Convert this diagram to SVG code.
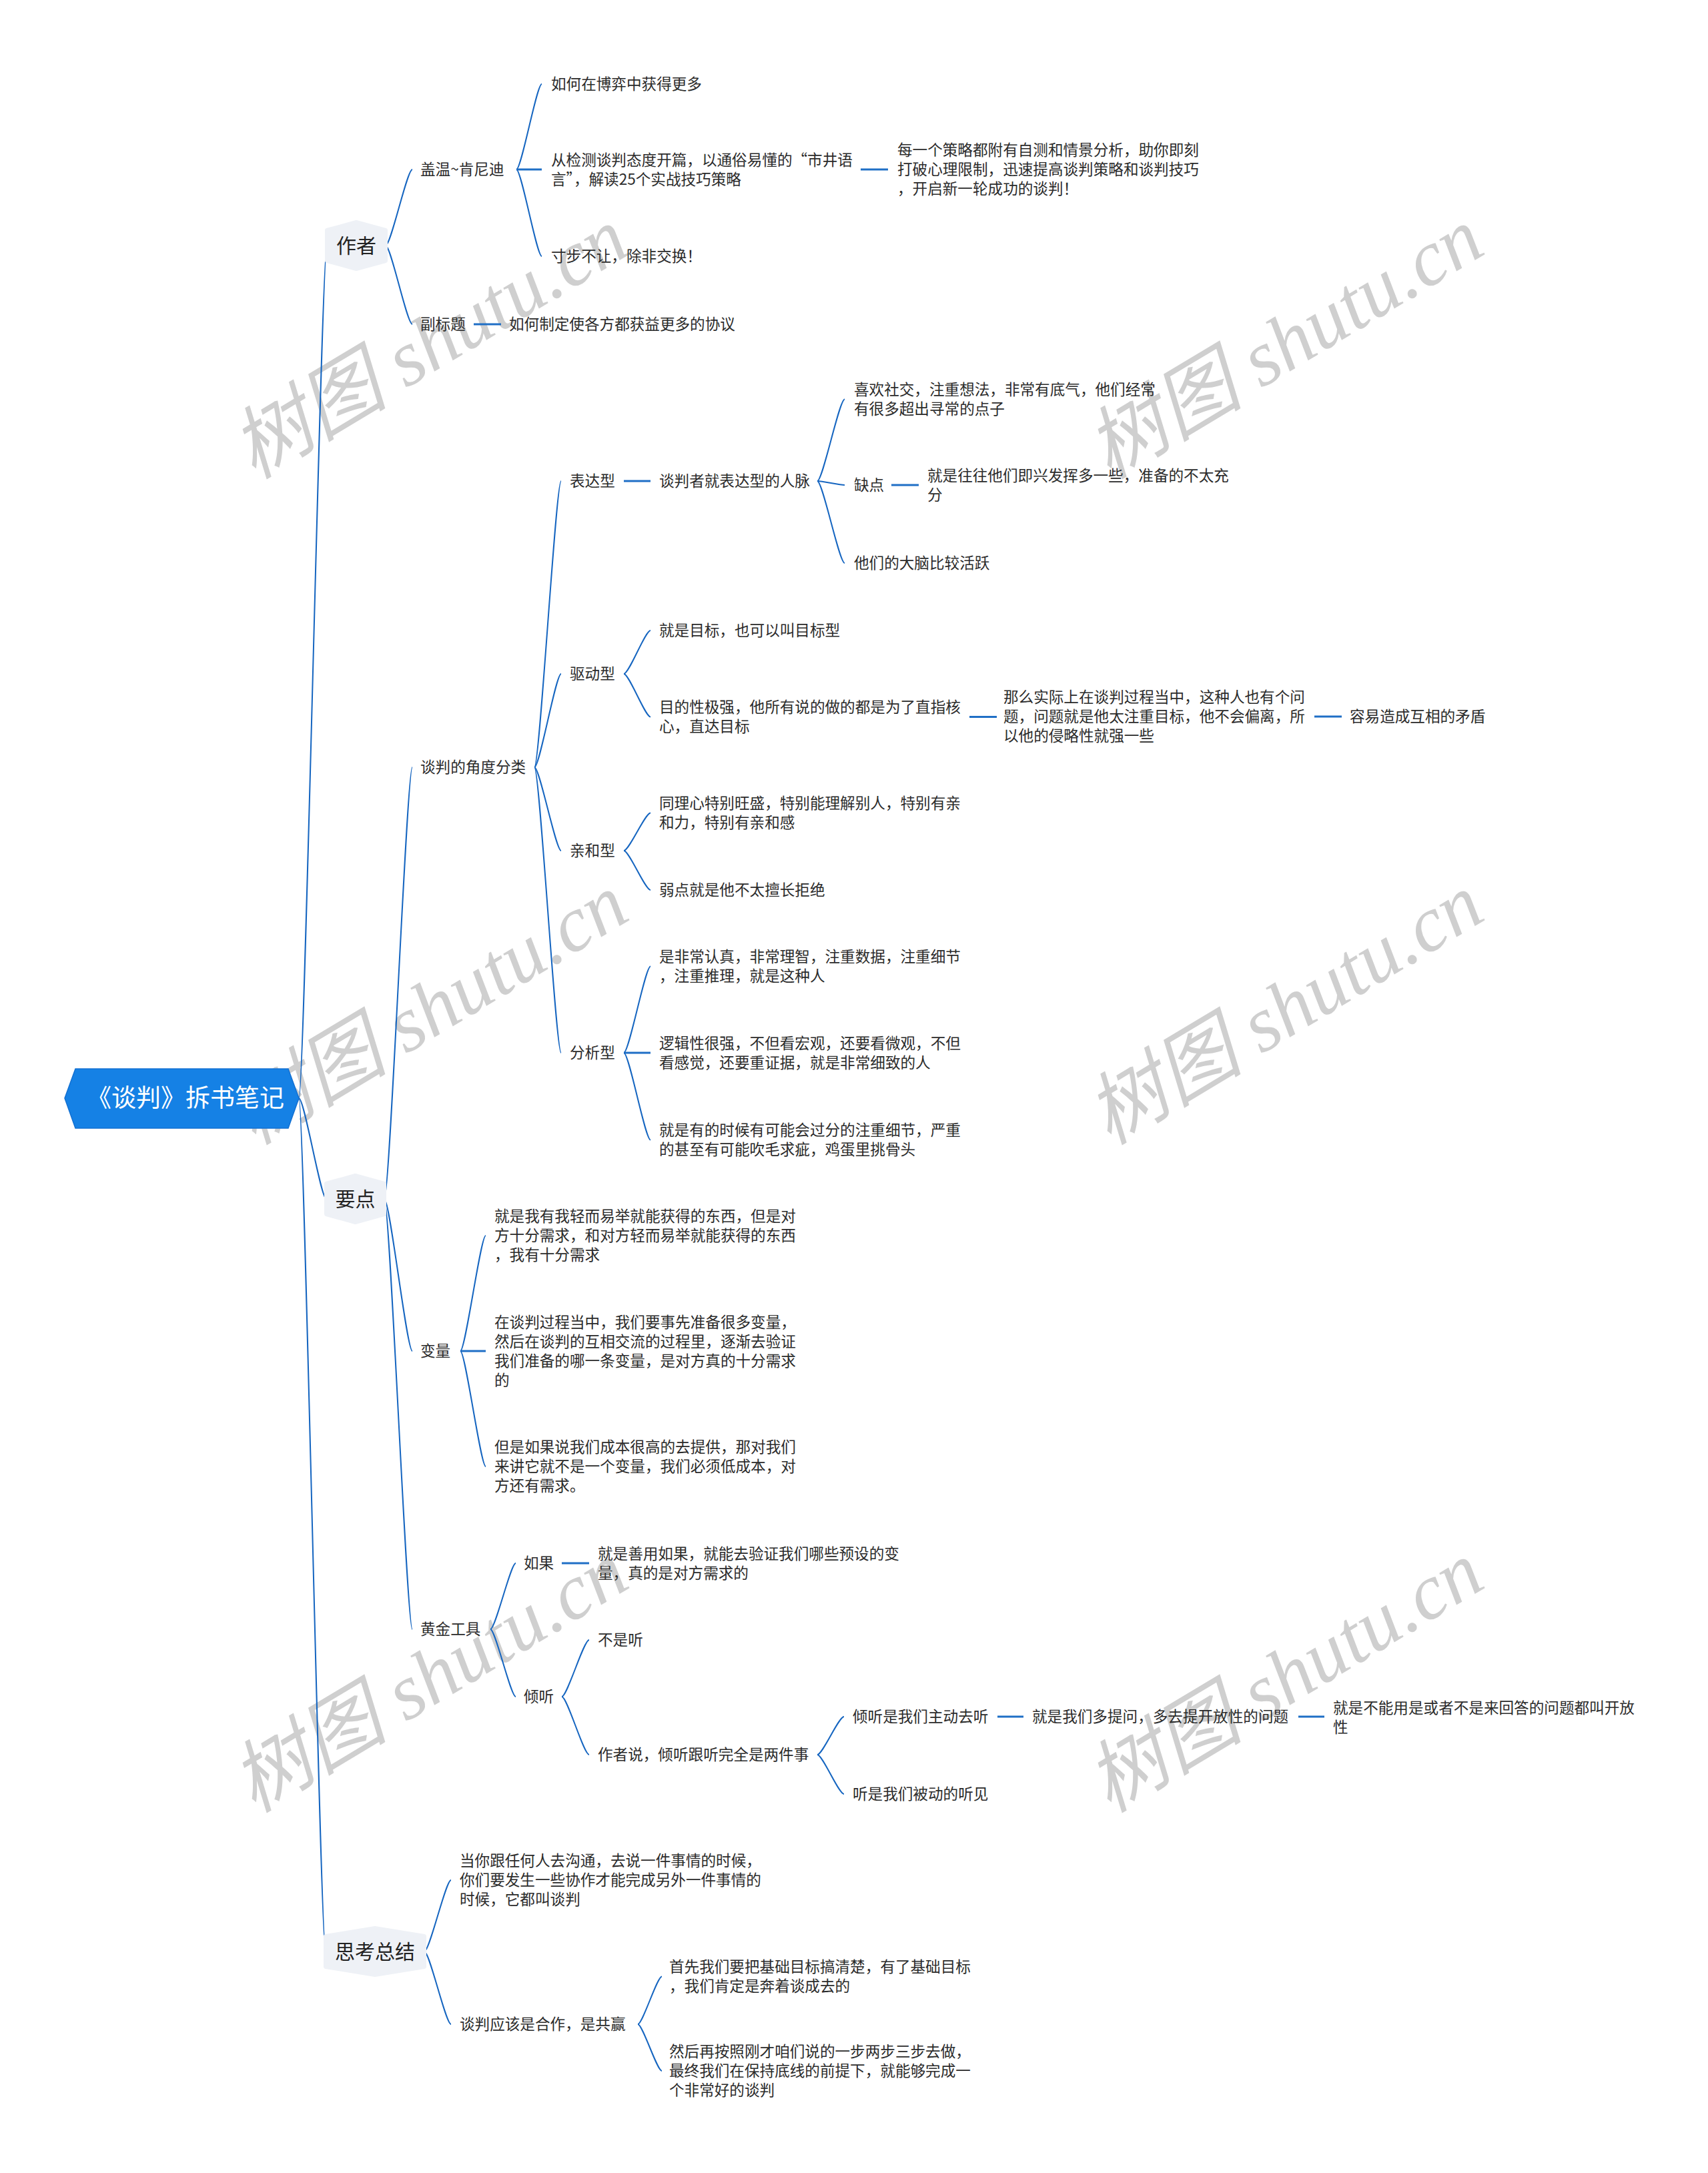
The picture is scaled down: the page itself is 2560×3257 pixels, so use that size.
<svg xmlns="http://www.w3.org/2000/svg" width="2560" height="3257" viewBox="0 0 2560 3257">
<style>
.bg{fill:#ffffff}
.wm{font-family:"Liberation Serif","Noto Sans CJK SC",serif;font-style:italic;font-size:118px;fill:#cfcfcf;text-anchor:middle;dominant-baseline:central}
.t{font-family:"Noto Sans CJK SC","Noto Sans",sans-serif;font-size:22.6px;fill:#2b2b2b}
.h{font-family:"Noto Sans CJK SC","Noto Sans",sans-serif;font-size:30px;fill:#222222;text-anchor:middle}
.root{font-family:"Noto Sans CJK SC","Noto Sans",sans-serif;font-size:37px;fill:#ffffff;text-anchor:middle}
.c{fill:none;stroke:#1565c0;stroke-width:2}
.s{fill:none;stroke:#1f6fc6;stroke-width:3}
.hex{fill:#eef1f6;stroke:#eef1f6;stroke-width:6;stroke-linejoin:round}
</style>
<rect class="bg" x="0" y="0" width="2560" height="3257"/>
<g id="watermarks">
<text class="wm" x="644" y="515" transform="rotate(-31 644 515)">树图 shutu.cn</text>
<text class="wm" x="1926" y="515" transform="rotate(-31 1926 515)">树图 shutu.cn</text>
<text class="wm" x="644" y="1513" transform="rotate(-31 644 1513)">树图 shutu.cn</text>
<text class="wm" x="1926" y="1513" transform="rotate(-31 1926 1513)">树图 shutu.cn</text>
<text class="wm" x="644" y="2514" transform="rotate(-31 644 2514)">树图 shutu.cn</text>
<text class="wm" x="1926" y="2514" transform="rotate(-31 1926 2514)">树图 shutu.cn</text>
</g>
<g id="connectors">
<path class="c" d="M448,1646 C456.4,1646 481.6,368 490,368"/>
<path class="c" d="M448,1646 C456.2,1646 480.8,1797 489,1797"/>
<path class="c" d="M448,1646 C456,1646 480,2925 488,2925"/>
<path class="c" d="M578,368 C586,368 610,254 618,254"/>
<path class="c" d="M578,368 C586,368 610,486 618,486"/>
<path class="c" d="M774,254 C781.6,254 804.4,126 812,126"/>
<path class="s" d="M774,254 L812,254"/>
<path class="c" d="M774,254 C781.6,254 804.4,384 812,384"/>
<path class="s" d="M1290,254 L1331,254"/>
<path class="s" d="M710,486 L751,486"/>
<path class="c" d="M576,1797 C584.4,1797 609.6,1150 618,1150"/>
<path class="c" d="M576,1797 C584.4,1797 609.6,2025 618,2025"/>
<path class="c" d="M576,1797 C584.4,1797 609.6,2442 618,2442"/>
<path class="c" d="M801,1150 C809,1150 833,721 841,721"/>
<path class="c" d="M801,1150 C809,1150 833,1010 841,1010"/>
<path class="c" d="M801,1150 C809,1150 833,1275 841,1275"/>
<path class="c" d="M801,1150 C809,1150 833,1578 841,1578"/>
<path class="s" d="M935,721 L975,721"/>
<path class="c" d="M1225,721 C1233.2,721 1257.8,598.5 1266,598.5"/>
<path class="c" d="M1225,721 C1233.2,721 1257.8,727 1266,727"/>
<path class="c" d="M1225,721 C1233.2,721 1257.8,844 1266,844"/>
<path class="s" d="M1336,727 L1377,727"/>
<path class="c" d="M935,1010 C943,1010 967,945 975,945"/>
<path class="c" d="M935,1010 C943,1010 967,1074.5 975,1074.5"/>
<path class="s" d="M1453,1074.5 L1494,1074.5"/>
<path class="s" d="M1970,1074 L2011,1074"/>
<path class="c" d="M935,1275 C943,1275 967,1218.5 975,1218.5"/>
<path class="c" d="M935,1275 C943,1275 967,1334 975,1334"/>
<path class="c" d="M935,1578 C943,1578 967,1448.5 975,1448.5"/>
<path class="s" d="M935,1578 L975,1578"/>
<path class="c" d="M935,1578 C943,1578 967,1708.5 975,1708.5"/>
<path class="c" d="M690,2025 C697.6,2025 720.4,1852 728,1852"/>
<path class="s" d="M690,2025 L728,2025"/>
<path class="c" d="M690,2025 C697.6,2025 720.4,2198 728,2198"/>
<path class="c" d="M735,2442 C742.6,2442 765.4,2343 773,2343"/>
<path class="c" d="M735,2442 C742.6,2442 765.4,2543 773,2543"/>
<path class="s" d="M842,2343 L883,2343"/>
<path class="c" d="M842,2543 C850.2,2543 874.8,2458 883,2458"/>
<path class="c" d="M842,2543 C850.2,2543 874.8,2630 883,2630"/>
<path class="c" d="M1225,2630 C1233,2630 1257,2573 1265,2573"/>
<path class="c" d="M1225,2630 C1233,2630 1257,2689 1265,2689"/>
<path class="s" d="M1495,2573 L1534,2573"/>
<path class="s" d="M1946,2573 L1985,2573"/>
<path class="c" d="M636,2925 C644,2925 668,2818 676,2818"/>
<path class="c" d="M636,2925 C644,2925 668,3034 676,3034"/>
<path class="c" d="M956,3034 C963.2,3034 984.8,2962.5 992,2962.5"/>
<path class="c" d="M956,3034 C963.2,3034 984.8,3104 992,3104"/>
</g>
<g id="root">
<polygon points="113,1602 432,1602 448,1646 432,1691 113,1691 97,1646" fill="#1581e5" stroke="#1270d2" stroke-width="1.5"/>
<text class="root" x="278" y="1659">《谈判》拆书笔记</text>
</g>
<g id="n-author">
<polygon class="hex" points="534,333 578,345 578,391 534,403 490,391 490,345"/>
<text class="h" x="534" y="378.5">作者</text>
</g>
<g id="n-gaiwen"><text class="t" x="630" y="262">盖温~肯尼迪</text></g>
<g id="n-boyi"><text class="t" x="826" y="134">如何在博弈中获得更多</text></g>
<g id="n-jiance"><text class="t"><tspan x="826" y="248">从检测谈判态度开篇，以通俗易懂的“市井语</tspan><tspan x="826" y="277">言”，解读25个实战技巧策略</tspan></text></g>
<g id="n-celue"><text class="t"><tspan x="1345" y="233">每一个策略都附有自测和情景分析，助你即刻</tspan><tspan x="1345" y="262">打破心理限制，迅速提高谈判策略和谈判技巧</tspan><tspan x="1345" y="291">，开启新一轮成功的谈判！</tspan></text></g>
<g id="n-cunbu"><text class="t" x="826" y="392">寸步不让，除非交换！</text></g>
<g id="n-fubiaoti"><text class="t" x="630" y="494">副标题</text></g>
<g id="n-xieyi"><text class="t" x="763" y="494">如何制定使各方都获益更多的协议</text></g>
<g id="n-yaodian">
<polygon class="hex" points="532.5,1762 576,1774 576,1820 532.5,1832 489,1820 489,1774"/>
<text class="h" x="532.5" y="1807.5">要点</text>
</g>
<g id="n-jiaodu"><text class="t" x="630" y="1158">谈判的角度分类</text></g>
<g id="n-biaoda"><text class="t" x="854" y="729">表达型</text></g>
<g id="n-renmai"><text class="t" x="988" y="729">谈判者就表达型的人脉</text></g>
<g id="n-shejiao"><text class="t"><tspan x="1280" y="592">喜欢社交，注重想法，非常有底气，他们经常</tspan><tspan x="1280" y="621">有很多超出寻常的点子</tspan></text></g>
<g id="n-quedian"><text class="t" x="1280" y="735">缺点</text></g>
<g id="n-jixing"><text class="t"><tspan x="1390" y="721">就是往往他们即兴发挥多一些，准备的不太充</tspan><tspan x="1390" y="750">分</tspan></text></g>
<g id="n-danao"><text class="t" x="1280" y="852">他们的大脑比较活跃</text></g>
<g id="n-qudong"><text class="t" x="854" y="1018">驱动型</text></g>
<g id="n-mubiao"><text class="t" x="988" y="953">就是目标，也可以叫目标型</text></g>
<g id="n-mudi"><text class="t"><tspan x="988" y="1068">目的性极强，他所有说的做的都是为了直指核</tspan><tspan x="988" y="1097">心，直达目标</tspan></text></g>
<g id="n-name"><text class="t"><tspan x="1504" y="1053">那么实际上在谈判过程当中，这种人也有个问</tspan><tspan x="1504" y="1082">题，问题就是他太注重目标，他不会偏离，所</tspan><tspan x="1504" y="1111">以他的侵略性就强一些</tspan></text></g>
<g id="n-maodun"><text class="t" x="2023" y="1082">容易造成互相的矛盾</text></g>
<g id="n-qinhe"><text class="t" x="854" y="1283">亲和型</text></g>
<g id="n-tongli"><text class="t"><tspan x="988" y="1212">同理心特别旺盛，特别能理解别人，特别有亲</tspan><tspan x="988" y="1241">和力，特别有亲和感</tspan></text></g>
<g id="n-ruodian"><text class="t" x="988" y="1342">弱点就是他不太擅长拒绝</text></g>
<g id="n-fenxi"><text class="t" x="854" y="1586">分析型</text></g>
<g id="n-renzhen"><text class="t"><tspan x="988" y="1442">是非常认真，非常理智，注重数据，注重细节</tspan><tspan x="988" y="1471">，注重推理，就是这种人</tspan></text></g>
<g id="n-luoji"><text class="t"><tspan x="988" y="1572">逻辑性很强，不但看宏观，还要看微观，不但</tspan><tspan x="988" y="1601">看感觉，还要重证据，就是非常细致的人</tspan></text></g>
<g id="n-guofen"><text class="t"><tspan x="988" y="1702">就是有的时候有可能会过分的注重细节，严重</tspan><tspan x="988" y="1731">的甚至有可能吹毛求疵，鸡蛋里挑骨头</tspan></text></g>
<g id="n-bianliang"><text class="t" x="630" y="2033">变量</text></g>
<g id="n-qingeryiju"><text class="t"><tspan x="741" y="1831">就是我有我轻而易举就能获得的东西，但是对</tspan><tspan x="741" y="1860">方十分需求，和对方轻而易举就能获得的东西</tspan><tspan x="741" y="1889">，我有十分需求</tspan></text></g>
<g id="n-shixian"><text class="t"><tspan x="741" y="1990">在谈判过程当中，我们要事先准备很多变量，</tspan><tspan x="741" y="2019">然后在谈判的互相交流的过程里，逐渐去验证</tspan><tspan x="741" y="2048">我们准备的哪一条变量，是对方真的十分需求</tspan><tspan x="741" y="2077">的</tspan></text></g>
<g id="n-chengben"><text class="t"><tspan x="741" y="2177">但是如果说我们成本很高的去提供，那对我们</tspan><tspan x="741" y="2206">来讲它就不是一个变量，我们必须低成本，对</tspan><tspan x="741" y="2235">方还有需求。</tspan></text></g>
<g id="n-huangjin"><text class="t" x="630" y="2450">黄金工具</text></g>
<g id="n-ruguo"><text class="t" x="785" y="2351">如果</text></g>
<g id="n-shanyong"><text class="t"><tspan x="896" y="2337">就是善用如果，就能去验证我们哪些预设的变</tspan><tspan x="896" y="2366">量，真的是对方需求的</tspan></text></g>
<g id="n-qingting"><text class="t" x="785" y="2551">倾听</text></g>
<g id="n-bushiting"><text class="t" x="896" y="2466">不是听</text></g>
<g id="n-zuozheshuo"><text class="t" x="896" y="2638">作者说，倾听跟听完全是两件事</text></g>
<g id="n-zhudong"><text class="t" x="1278" y="2581">倾听是我们主动去听</text></g>
<g id="n-tiwen"><text class="t" x="1547" y="2581">就是我们多提问，多去提开放性的问题</text></g>
<g id="n-kaifang"><text class="t"><tspan x="1998" y="2568">就是不能用是或者不是来回答的问题都叫开放</tspan><tspan x="1998" y="2597">性</tspan></text></g>
<g id="n-beidong"><text class="t" x="1278" y="2697">听是我们被动的听见</text></g>
<g id="n-sikao">
<polygon class="hex" points="562,2890 636,2902 636,2948 562,2960 488,2948 488,2902"/>
<text class="h" x="562" y="2935.5">思考总结</text>
</g>
<g id="n-goutong"><text class="t"><tspan x="689" y="2797">当你跟任何人去沟通，去说一件事情的时候，</tspan><tspan x="689" y="2826">你们要发生一些协作才能完成另外一件事情的</tspan><tspan x="689" y="2855">时候，它都叫谈判</tspan></text></g>
<g id="n-hezuo"><text class="t" x="689" y="3042">谈判应该是合作，是共赢</text></g>
<g id="n-jichu"><text class="t"><tspan x="1003" y="2956">首先我们要把基础目标搞清楚，有了基础目标</tspan><tspan x="1003" y="2985">，我们肯定是奔着谈成去的</tspan></text></g>
<g id="n-yibu"><text class="t"><tspan x="1003" y="3083">然后再按照刚才咱们说的一步两步三步去做，</tspan><tspan x="1003" y="3112">最终我们在保持底线的前提下，就能够完成一</tspan><tspan x="1003" y="3141">个非常好的谈判</tspan></text></g>
</svg>
